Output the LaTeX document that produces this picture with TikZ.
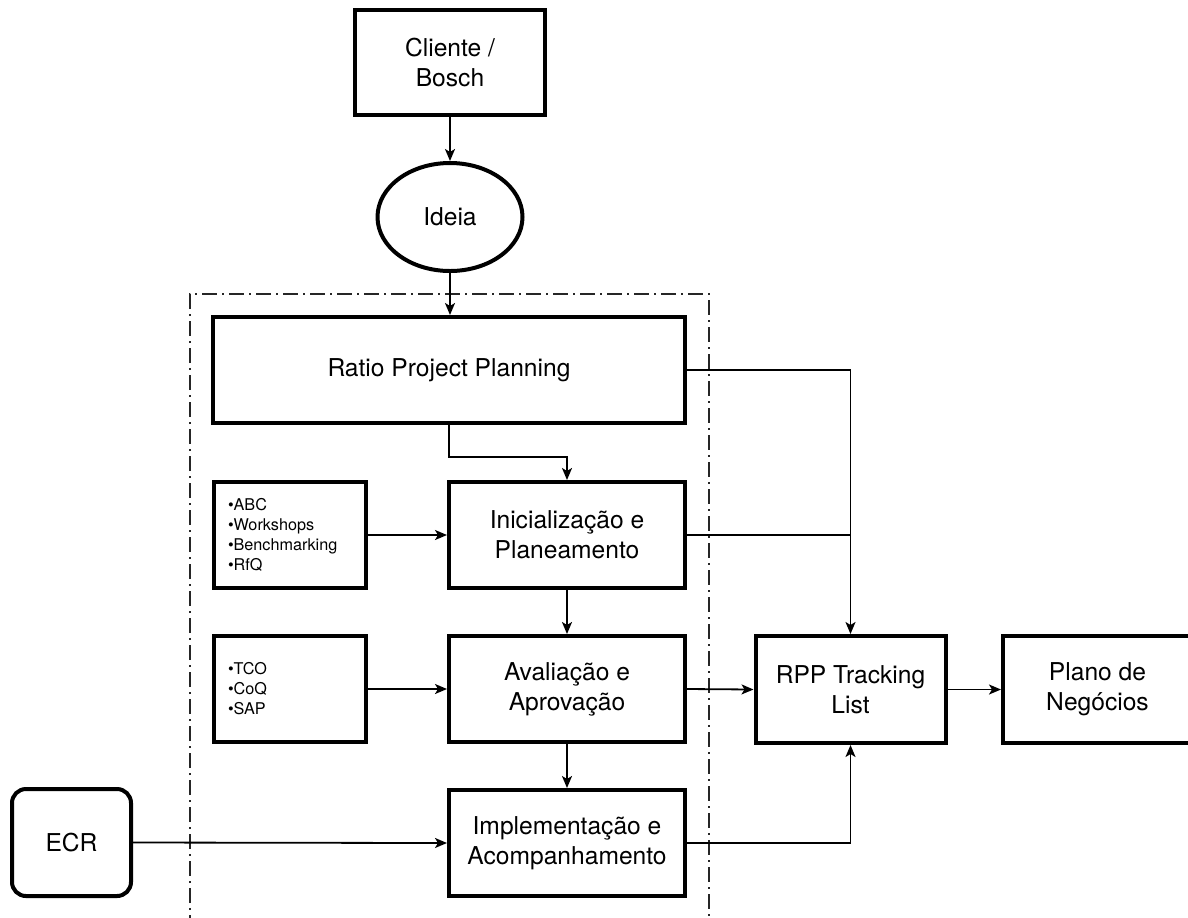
\documentclass[tikz,border=0pt]{standalone}
\usepackage{fontspec}
\setmainfont{TeX Gyre Heros}
\usetikzlibrary{shapes.geometric,arrows.meta}

\begin{document}
\begin{tikzpicture}[x=0.5pt,y=-0.5pt,
  box/.style={draw, line width=2pt, inner sep=0pt, align=center,
    font=\fontsize{12.3}{15}\selectfont},
  listbox/.style={draw, line width=2pt, inner ysep=0pt, inner xsep=7pt,
    text width=62pt, minimum height=53pt, align=left,
    font=\fontsize{8.1}{10}\selectfont},
  conn/.style={line width=0.9pt},
  arr/.style={conn, -{Stealth[length=6pt,width=5pt,inset=1.5pt]}},
  frame/.style={line width=0.8pt, black!85,
    dash pattern=on 7.5pt off 2.5pt on 1pt off 2.5pt}
]
\useasboundingbox (0,0) rectangle (1188,917);

% dash-dot frame around the project phases
\draw[frame] (190,930) -- (190,294) -- (709,294) -- (709,930);

% nodes
\node[box, minimum width=95pt, minimum height=52.5pt] (cli) at (450,62.5) {Cliente /\\Bosch};
\node[box, ellipse, minimum width=72.5pt, minimum height=54pt] (ide) at (450,217) {Ideia};
\node[box, minimum width=236pt, minimum height=53pt] (rpp) at (449,370) {Ratio Project Planning};
\node[box, minimum width=118pt, minimum height=53pt] (ini) at (567,535) {Inicialização e\\Planeamento};
\node[box, minimum width=118pt, minimum height=53pt] (ava) at (567,689) {Avaliação e\\Aprovação};
\node[box, minimum width=118pt, minimum height=53pt] (imp) at (567,843) {Implementação e\\Acompanhamento};
\node[listbox] (abc) at (290,535) {\textbullet ABC\\\textbullet Workshops\\\textbullet Benchmarking\\\textbullet RfQ};
\node[listbox] (tco) at (290,689) {\textbullet TCO\\\textbullet CoQ\\\textbullet SAP};
\node[box, rounded corners=7pt, minimum width=59.5pt, minimum height=53.5pt] (ecr) at (71.5,842.5) {ECR};
\node[box, minimum width=95pt, minimum height=53.5pt] (trk) at (850.5,689.5) {RPP Tracking\\List};
\node[box, minimum width=94.5pt, minimum height=53.5pt] (pla) at (1097.5,689.5) {Plano de\\Negócios};

% connectors
\draw[arr] (cli.south) -- (ide.north);
\draw[arr] (ide.south) -- (ide.south |- rpp.north);
\draw[arr] (rpp.south) -- ++(0,32) -| (ini.north);
\draw[arr] (abc.east) -- (ini.west);
\draw[arr] (ini.south) -- (ava.north);
\draw[arr] (tco.east) -- (ava.west);
\draw[arr] (ava.south) -- (imp.north);
\draw[arr] (ecr.east) -- (imp.west);
\draw[arr] (ava.east) -- (trk.west);
\draw[arr] (trk.east) -- (pla.west);
\draw[arr] (rpp.east) -| (trk.north);
\draw[conn] (ini.east) -- (ini.east -| trk.north);
\draw[arr] (imp.east) -| (trk.south);
\end{tikzpicture}
\end{document}
